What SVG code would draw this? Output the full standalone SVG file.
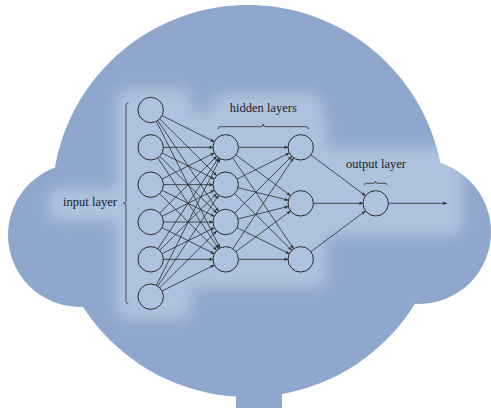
<svg xmlns="http://www.w3.org/2000/svg" width="491" height="408" viewBox="0 0 491 408">
  <defs>
    <style>
      .cloud { fill: #8fa6cd; }
      .glow { fill: #adc2df; }
      .node { fill: none; stroke: #2b2b2b; stroke-width: 1; }
      .edge { stroke: #2b2b2b; stroke-width: 0.8; fill: none; }
      .brace { stroke: #2b2b2b; stroke-width: 0.8; fill: none; }
      .label { font-family: "Liberation Serif", "DejaVu Serif", serif; font-size: 12.5px; fill: #1a1a1a; text-anchor: middle; }
    </style>
    <filter id="soft" x="-30%" y="-30%" width="160%" height="160%">
      <feGaussianBlur stdDeviation="7"/>
    </filter>
    <!-- outline of the cloud, used to keep the halo inside it -->
    <clipPath id="cloudClip">
      <rect x="236" y="385" width="46" height="23"/>
      <circle cx="248" cy="201" r="196"/>
      <circle cx="80" cy="235" r="72"/>
      <circle cx="419" cy="232" r="72"/>
    </clipPath>
    <!-- arrow tip lands on the target circle's rim (r = 12.7) -->
    <marker id="tipNode" markerUnits="userSpaceOnUse" orient="auto" refX="12.7" refY="0" markerWidth="1" markerHeight="1" overflow="visible">
      <path d="M0,0 L-4,-1.8 L-3,0 L-4,1.8 Z" fill="#2b2b2b"/>
    </marker>
    <marker id="tipEnd" markerUnits="userSpaceOnUse" orient="auto" refX="0" refY="0" markerWidth="1" markerHeight="1" overflow="visible">
      <path d="M0,0 L-4,-1.8 L-3,0 L-4,1.8 Z" fill="#2b2b2b"/>
    </marker>
    <!-- hide edge segments inside the node circles -->
    <mask id="holes" maskUnits="userSpaceOnUse" x="0" y="0" width="491" height="408">
      <rect x="0" y="0" width="491" height="408" fill="#fff"/>
      <g fill="#000">
        <circle cx="150.7" cy="110" r="12.7"/>
        <circle cx="150.7" cy="147.33" r="12.7"/>
        <circle cx="150.7" cy="184.67" r="12.7"/>
        <circle cx="150.7" cy="222" r="12.7"/>
        <circle cx="150.7" cy="259.33" r="12.7"/>
        <circle cx="150.7" cy="296.67" r="12.7"/>
        <circle cx="225.7" cy="147.33" r="12.7"/>
        <circle cx="225.7" cy="184.67" r="12.7"/>
        <circle cx="225.7" cy="222" r="12.7"/>
        <circle cx="225.7" cy="259.33" r="12.7"/>
        <circle cx="300.7" cy="147.33" r="12.7"/>
        <circle cx="300.7" cy="203.33" r="12.7"/>
        <circle cx="300.7" cy="259.33" r="12.7"/>
        <circle cx="375.7" cy="203.33" r="12.7"/>
      </g>
    </mask>
  </defs>

  <!-- cloud background -->
  <g id="cloud">
    <rect class="cloud" x="236" y="385" width="46" height="23"/>
    <circle class="cloud" cx="248" cy="201" r="196"/>
    <circle class="cloud" cx="80" cy="235" r="72"/>
    <circle class="cloud" cx="419" cy="232" r="72"/>
  </g>

  <!-- soft light halo behind the network -->
  <g clip-path="url(#cloudClip)">
    <g id="halo" class="glow" filter="url(#soft)">
      <rect x="48" y="188" width="92" height="34" rx="10"/>
      <rect x="116" y="88" width="76" height="232" rx="12"/>
      <rect x="190" y="112" width="137" height="176" rx="12"/>
      <rect x="212" y="94" width="110" height="42" rx="10"/>
      <rect x="318" y="148" width="146" height="88" rx="12"/>
    </g>
  </g>

  <!-- connectors -->
  <g id="edges" class="edge" mask="url(#holes)">
    <g marker-end="url(#tipNode)">
      <line x1="150.7" y1="110" x2="225.7" y2="147.33"/>
      <line x1="150.7" y1="110" x2="225.7" y2="184.67"/>
      <line x1="150.7" y1="110" x2="225.7" y2="222"/>
      <line x1="150.7" y1="110" x2="225.7" y2="259.33"/>
      <line x1="150.7" y1="147.33" x2="225.7" y2="147.33"/>
      <line x1="150.7" y1="147.33" x2="225.7" y2="184.67"/>
      <line x1="150.7" y1="147.33" x2="225.7" y2="222"/>
      <line x1="150.7" y1="147.33" x2="225.7" y2="259.33"/>
      <line x1="150.7" y1="184.67" x2="225.7" y2="147.33"/>
      <line x1="150.7" y1="184.67" x2="225.7" y2="184.67"/>
      <line x1="150.7" y1="184.67" x2="225.7" y2="222"/>
      <line x1="150.7" y1="184.67" x2="225.7" y2="259.33"/>
      <line x1="150.7" y1="222" x2="225.7" y2="147.33"/>
      <line x1="150.7" y1="222" x2="225.7" y2="184.67"/>
      <line x1="150.7" y1="222" x2="225.7" y2="222"/>
      <line x1="150.7" y1="222" x2="225.7" y2="259.33"/>
      <line x1="150.7" y1="259.33" x2="225.7" y2="147.33"/>
      <line x1="150.7" y1="259.33" x2="225.7" y2="184.67"/>
      <line x1="150.7" y1="259.33" x2="225.7" y2="222"/>
      <line x1="150.7" y1="259.33" x2="225.7" y2="259.33"/>
      <line x1="150.7" y1="296.67" x2="225.7" y2="147.33"/>
      <line x1="150.7" y1="296.67" x2="225.7" y2="184.67"/>
      <line x1="150.7" y1="296.67" x2="225.7" y2="222"/>
      <line x1="150.7" y1="296.67" x2="225.7" y2="259.33"/>

      <line x1="225.7" y1="147.33" x2="300.7" y2="147.33"/>
      <line x1="225.7" y1="147.33" x2="300.7" y2="203.33"/>
      <line x1="225.7" y1="147.33" x2="300.7" y2="259.33"/>
      <line x1="225.7" y1="184.67" x2="300.7" y2="147.33"/>
      <line x1="225.7" y1="184.67" x2="300.7" y2="203.33"/>
      <line x1="225.7" y1="184.67" x2="300.7" y2="259.33"/>
      <line x1="225.7" y1="222" x2="300.7" y2="147.33"/>
      <line x1="225.7" y1="222" x2="300.7" y2="203.33"/>
      <line x1="225.7" y1="222" x2="300.7" y2="259.33"/>
      <line x1="225.7" y1="259.33" x2="300.7" y2="147.33"/>
      <line x1="225.7" y1="259.33" x2="300.7" y2="203.33"/>
      <line x1="225.7" y1="259.33" x2="300.7" y2="259.33"/>

      <line x1="300.7" y1="147.33" x2="375.7" y2="203.33"/>
      <line x1="300.7" y1="203.33" x2="375.7" y2="203.33"/>
      <line x1="300.7" y1="259.33" x2="375.7" y2="203.33"/>
    </g>
    <line x1="388.4" y1="203.33" x2="446.7" y2="203.33" marker-end="url(#tipEnd)"/>
  </g>

  <!-- input layer -->
  <g id="input-layer">
    <circle class="node" cx="150.7" cy="110" r="12.7"/>
    <circle class="node" cx="150.7" cy="147.33" r="12.7"/>
    <circle class="node" cx="150.7" cy="184.67" r="12.7"/>
    <circle class="node" cx="150.7" cy="222" r="12.7"/>
    <circle class="node" cx="150.7" cy="259.33" r="12.7"/>
    <circle class="node" cx="150.7" cy="296.67" r="12.7"/>
    <path class="brace" d="M128.5,103 Q126,103 126,105.5 L126,200.8 Q126,203.3 123.5,203.3 Q126,203.3 126,205.8 L126,301.5 Q126,304 128.5,304"/>
    <text class="label" x="90" y="206">input layer</text>
  </g>

  <!-- first hidden layer -->
  <g id="hidden-layer-1">
    <circle class="node" cx="225.7" cy="147.33" r="12.7"/>
    <circle class="node" cx="225.7" cy="184.67" r="12.7"/>
    <circle class="node" cx="225.7" cy="222" r="12.7"/>
    <circle class="node" cx="225.7" cy="259.33" r="12.7"/>
  </g>

  <!-- second hidden layer -->
  <g id="hidden-layer-2">
    <circle class="node" cx="300.7" cy="147.33" r="12.7"/>
    <circle class="node" cx="300.7" cy="203.33" r="12.7"/>
    <circle class="node" cx="300.7" cy="259.33" r="12.7"/>
  </g>

  <!-- label over both hidden layers -->
  <g id="hidden-label">
    <path class="brace" d="M218,129.2 Q218,126.7 220.5,126.7 L260.8,126.7 Q263.3,126.7 263.3,124.2 Q263.3,126.7 265.8,126.7 L306,126.7 Q308.5,126.7 308.5,129.2"/>
    <text class="label" x="263.3" y="112">hidden layers</text>
  </g>

  <!-- output layer -->
  <g id="output-layer">
    <circle class="node" cx="375.7" cy="203.33" r="12.7"/>
    <path class="brace" d="M364.5,185.3 Q364.5,183.3 366.5,183.3 L373.7,183.3 Q375.7,183.3 375.7,181.3 Q375.7,183.3 377.7,183.3 L385,183.3 Q387,183.3 387,185.3"/>
    <text class="label" x="376" y="168">output layer</text>
  </g>
</svg>
